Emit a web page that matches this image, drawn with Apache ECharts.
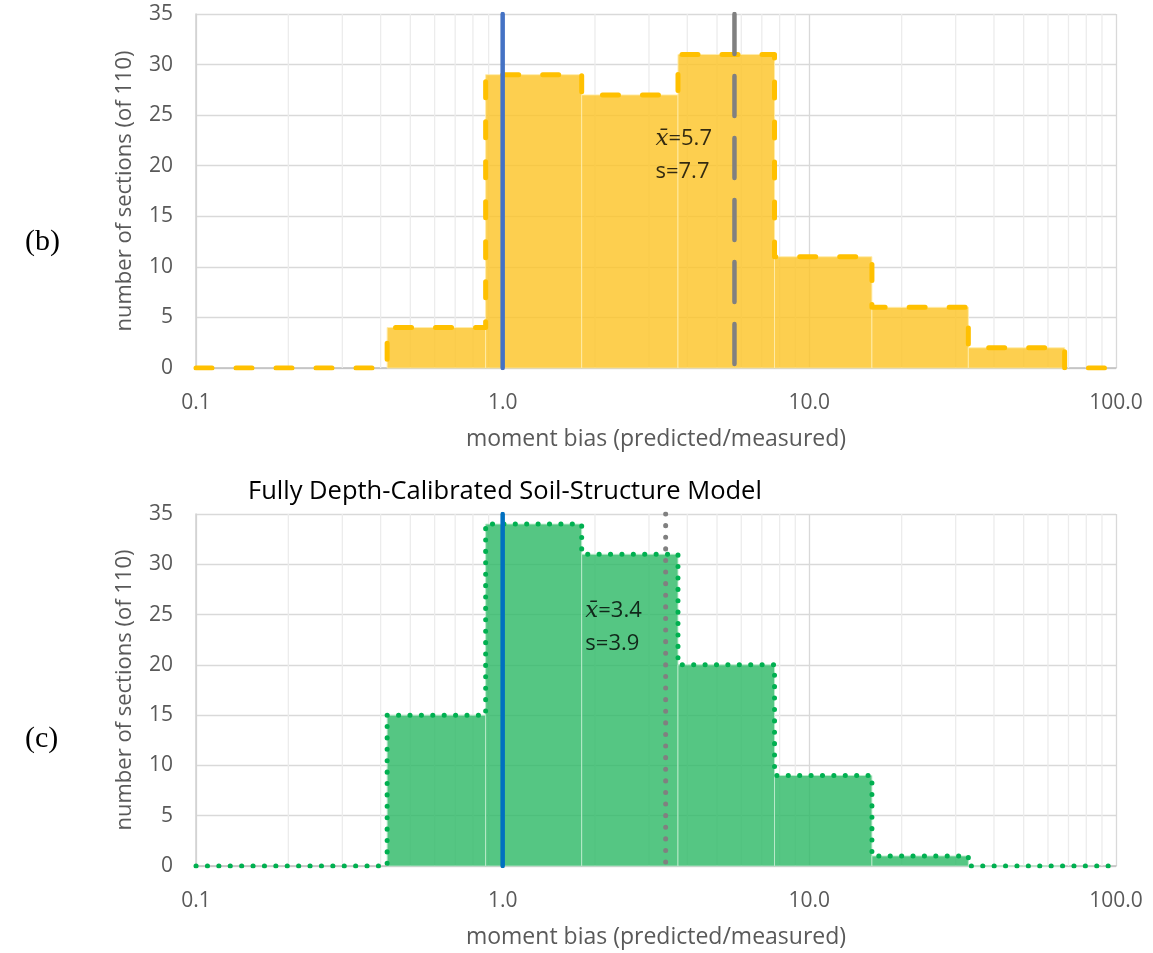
<!DOCTYPE html>
<html>
<head>
<meta charset="utf-8">
<script src="https://cdn.jsdelivr.net/npm/echarts@6/dist/echarts.min.js"></script>
<style>
  html, body { margin: 0; padding: 0; background: #fff; }
  #chart { width: 1153px; height: 953px; }
</style>
</head>
<body>
<div id="chart"></div>
<script>
// Histogram bin edges (log-spaced moment bias bins)
const binEdges = [0.42, 0.88, 1.81, 3.73, 7.7, 16, 33, 68];
// Section counts per bin, panel (b) and panel (c)
const countsB = [4, 29, 27, 31, 11, 6, 2];
const countsC = [15, 34, 31, 20, 9, 1, 0];
// Summary statistics
const meanB = 5.7, sdB = 7.7;
const meanC = 3.4, sdC = 3.9;
// Unbiased reference line
const refBias = 1.0;
// Axis ranges and ticks
const xRange = [0.1, 100];
const yRange = [0, 35];
const yStep = 5;
const minorXTicks = [0.2, 0.3, 0.4, 0.5, 0.6, 0.7, 0.8, 0.9,
                     2, 3, 4, 5, 6, 7, 8, 9,
                     20, 30, 40, 50, 60, 70, 80, 90];
const xTitle = 'moment bias (predicted/measured)';
const yTitle = 'number of sections (of 110)';
const titleC = 'Fully Depth-Calibrated Soil-Structure Model';

const FONT = "'Open Sans', 'Noto Sans', sans-serif";
const TXT = '#595959';

function binData(counts) {
  return counts.map((c, i) => [binEdges[i], binEdges[i + 1], c]);
}
// step outline of the histogram, running along the zero line at both ends
function outline(counts) {
  const pts = [[xRange[0], 0]];
  counts.forEach((c, i) => {
    pts.push([binEdges[i], i === 0 ? 0 : counts[i - 1]]);
    pts.push([binEdges[i], c]);
  });
  const last = binEdges[counts.length];
  pts.push([last, counts[counts.length - 1]]);
  pts.push([last, 0]);
  pts.push([xRange[1], 0]);
  return pts;
}

function xAxisDef(gi) {
  return {
    type: 'log', logBase: 10, gridIndex: gi,
    min: xRange[0], max: xRange[1],
    name: xTitle, nameLocation: 'middle', nameGap: 60,
    nameTextStyle: { color: TXT, fontSize: 23, fontFamily: FONT },
    axisLine: { show: true, lineStyle: { color: '#bfbfbf', width: 1.5 } },
    axisTick: { show: false },
    axisLabel: { color: TXT, fontSize: 21, fontFamily: FONT, margin: 25,
                 formatter: v => Number(v).toFixed(1) },
    splitLine: { show: true, lineStyle: { color: '#d9d9d9', width: 1.3 } }
  };
}
function yAxisDef(gi) {
  return {
    type: 'value', gridIndex: gi, min: yRange[0], max: yRange[1], interval: yStep,
    name: yTitle, nameLocation: 'middle', nameGap: 60,
    nameTextStyle: { color: TXT, fontSize: 22, fontFamily: FONT },
    axisLine: { show: true, lineStyle: { color: '#d0d0d0', width: 1.5 } },
    axisTick: { show: false },
    axisLabel: { color: TXT, fontSize: 21, fontFamily: FONT, margin: 23 },
    splitLine: { show: true, lineStyle: { color: '#d9d9d9', width: 1.3 } }
  };
}

// light vertical lines at the intermediate log ticks, drawn beneath the bars
function minorGrid(gi) {
  return {
    type: 'custom', xAxisIndex: gi, yAxisIndex: gi, z: 1, silent: true,
    data: minorXTicks,
    encode: { x: 0 },
    renderItem: (params, api) => {
      const top = api.coord([api.value(0), yRange[1]]);
      const bot = api.coord([api.value(0), yRange[0]]);
      return {
        type: 'line',
        shape: { x1: top[0], y1: top[1], x2: bot[0], y2: bot[1] },
        style: { stroke: '#ececec', lineWidth: 1.3 }
      };
    }
  };
}

function bars(gi, counts, fill, edge) {
  return {
    type: 'custom', xAxisIndex: gi, yAxisIndex: gi, z: 2,
    data: binData(counts),
    encode: { x: [0, 1], y: 2 },
    renderItem: (params, api) => {
      const p0 = api.coord([api.value(0), api.value(2)]);
      const p1 = api.coord([api.value(1), 0]);
      return {
        type: 'rect',
        shape: { x: p0[0], y: p0[1], width: p1[0] - p0[0], height: p1[1] - p0[1] },
        style: { fill: fill, stroke: edge, lineWidth: 1 }
      };
    }
  };
}

function stepLine(gi, counts, color, dash, width) {
  return {
    type: 'line', xAxisIndex: gi, yAxisIndex: gi, z: 5,
    data: outline(counts), symbol: 'none', silent: true,
    lineStyle: { color: color, width: width, type: dash, cap: 'round', join: 'round' }
  };
}

// full-height vertical marker, drawn from the top of the plot downwards
function vLine(gi, value, color, dash, width, z) {
  return {
    type: 'line', xAxisIndex: gi, yAxisIndex: gi, z: z,
    data: [[value, yRange[1]], [value, yRange[0]]], symbol: 'none', silent: true,
    lineStyle: { color: color, width: width, type: dash, cap: 'round' }
  };
}

function statLabel(gi, anchor, mean, sd) {
  return {
    type: 'scatter', xAxisIndex: gi, yAxisIndex: gi, z: 8, symbolSize: 0,
    data: [anchor],
    label: {
      show: true, position: 'right', distance: 0,
      formatter: () => '{i|x̄}{n|=' + mean.toFixed(1) + '}\n{n|s=' + sd.toFixed(1) + '}',
      rich: {
        i: { fontSize: 23, fontStyle: 'italic', fontFamily: "'DejaVu Serif', serif", color: '#000', lineHeight: 33 },
        n: { fontSize: 22, fontFamily: FONT, color: '#000', lineHeight: 33 }
      }
    }
  };
}

const chart = echarts.init(document.getElementById('chart'), null, { renderer: 'canvas' });
chart.setOption({
  animation: false,
  backgroundColor: '#ffffff',
  grid: [
    { left: 196, right: 37, top: 14, height: 354 },
    { left: 196, right: 37, top: 514, height: 352 }
  ],
  title: [
    { text: '(b)', left: 20, top: 222, textStyle: { fontFamily: "'Liberation Serif', serif", fontSize: 30, fontWeight: 'normal', color: '#000' } },
    { text: '(c)', left: 20, top: 719, textStyle: { fontFamily: "'Liberation Serif', serif", fontSize: 30, fontWeight: 'normal', color: '#000' } },
    { text: titleC, left: 243, top: 474, textStyle: { fontFamily: FONT, fontSize: 25.5, fontWeight: 'normal', color: '#000' } }
  ],
  xAxis: [xAxisDef(0), xAxisDef(1)],
  yAxis: [yAxisDef(0), yAxisDef(1)],
  series: [
    minorGrid(0),
    minorGrid(1),
    bars(0, countsB, 'rgba(253, 196, 40, 0.82)', 'rgba(255, 236, 170, 0.9)'),
    bars(1, countsC, 'rgba(48, 185, 104, 0.82)', 'rgba(190, 235, 205, 0.9)'),
    stepLine(0, countsB, '#ffc000', [16, 24], 5),
    stepLine(1, countsC, '#00b050', [0.1, 11.3], 5),
    vLine(0, refBias, '#4472c4', 'solid', 4.5, 6),
    vLine(1, refBias, '#0070c0', 'solid', 4.5, 6),
    vLine(0, meanB, '#808080', [40, 22], 4.5, 7),
    vLine(1, meanC, '#808080', [0.1, 11.5], 5, 7),
    statLabel(0, [3.15, 21.0], meanB, sdB),
    statLabel(1, [1.86, 23.7], meanC, sdC)
  ]
});
</script>
</body>
</html>
